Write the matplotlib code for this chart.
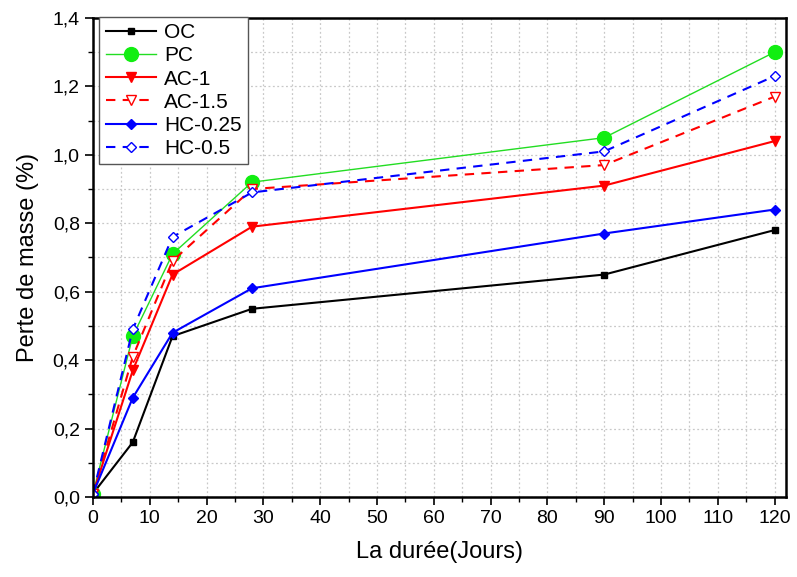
import matplotlib.pyplot as plt
from matplotlib.ticker import MultipleLocator, FuncFormatter

plt.rcParams["font.family"] = ["Liberation Sans", "DejaVu Sans"]

days = [0, 7, 14, 28, 90, 120]
oc = [0.01, 0.16, 0.47, 0.55, 0.65, 0.78]
pc = [0.01, 0.47, 0.71, 0.92, 1.05, 1.30]
ac_1 = [0.01, 0.37, 0.65, 0.79, 0.91, 1.04]
ac_15 = [0.01, 0.41, 0.69, 0.90, 0.97, 1.17]
hc_025 = [0.01, 0.29, 0.48, 0.61, 0.77, 0.84]
hc_05 = [0.01, 0.49, 0.76, 0.89, 1.01, 1.23]


def main() -> None:
    fig = plt.figure(figsize=(7.97, 5.77), dpi=100)
    ax = fig.add_axes([0.1167, 0.1386, 0.8695, 0.8304])

    dash = (0, (4.5, 3.5))
    ax.plot(days, oc, color="black", lw=1.5, marker="s", ms=5, label="OC")
    ax.plot(days, pc, color="#22dd22", lw=1.0, marker="o", ms=10,
            markerfacecolor="#11ee11", markeredgecolor="#11ee11", label="PC")
    ax.plot(days, ac_1, color="red", lw=1.5, marker="v", ms=6.5, label="AC-1")
    ax.plot(days, ac_15, color="red", lw=1.5, ls=dash, marker="v", ms=6.5,
            markerfacecolor="white", label="AC-1.5")
    ax.plot(days, hc_025, color="blue", lw=1.5, marker="D", ms=5, label="HC-0.25")
    ax.plot(days, hc_05, color="blue", lw=1.5, ls=dash, marker="D", ms=5,
            markerfacecolor="white", label="HC-0.5")

    ax.set_xlim(0, 122)
    ax.set_ylim(0, 1.4)
    ax.xaxis.set_major_locator(MultipleLocator(10))
    ax.xaxis.set_minor_locator(MultipleLocator(5))
    ax.yaxis.set_major_locator(MultipleLocator(0.2))
    ax.yaxis.set_minor_locator(MultipleLocator(0.1))
    ax.yaxis.set_major_formatter(FuncFormatter(lambda v, p: f"{v:.1f}".replace(".", ",")))
    ax.tick_params(which="major", direction="out", length=6, width=1.2, labelsize=14)
    ax.tick_params(which="minor", direction="out", length=3.5, width=1.0)
    ax.grid(True, which="both", color="#c8c8c8", ls=(0, (1.5, 2)), lw=0.9)
    ax.set_axisbelow(True)
    for side in ax.spines.values():
        side.set_linewidth(1.8)

    ax.set_xlabel("La durée(Jours)", fontsize=17, labelpad=10)
    ax.set_ylabel("Perte de masse (%)", fontsize=17, labelpad=10)

    leg = ax.legend(loc="upper left", bbox_to_anchor=(0.0, 1.015), fontsize=15,
                    fancybox=False, edgecolor="#555555", framealpha=1,
                    handlelength=2.4, handletextpad=0.4, labelspacing=0.2,
                    borderaxespad=0.3, borderpad=0.3)
    leg.get_frame().set_linewidth(1.0)

    fig.savefig("out.png", dpi=100)


if __name__ == "__main__":
    main()
